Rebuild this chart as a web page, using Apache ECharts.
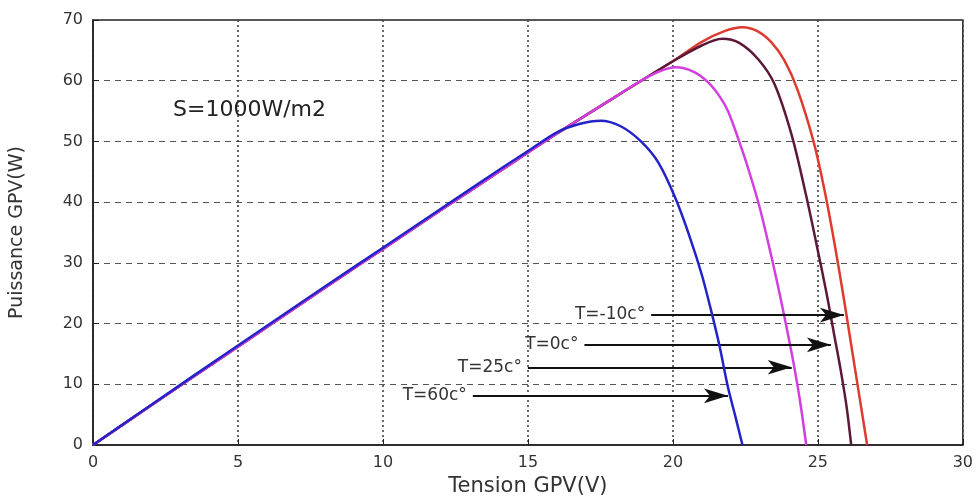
<!DOCTYPE html>
<html>
<head>
<meta charset="utf-8">
<style>
  html, body { margin: 0; padding: 0; background: #fff; }
  #main { width: 976px; height: 502px; }
</style>
<script src="https://cdn.jsdelivr.net/npm/echarts@6/dist/echarts.min.js"></script>
</head>
<body>
<div id="main"></div>
<script>
// courbes P(V), S = 1000 W/m2
var vT60 = [0, 2, 5, 8, 10, 12, 14, 15, 16, 16.8, 17.5, 18.2, 18.9, 19.5, 20.1, 20.6, 21.0, 21.3, 21.6, 21.9, 22.15, 22.4];
var pT60 = [0, 6.6, 16.4, 26.1, 32.5, 38.9, 45.3, 48.4, 51.5, 52.9, 53.4, 52.5, 50, 46.5, 40.5, 34, 28, 22.5, 16.5, 9.5, 4.8, 0];

var vT25 = [0, 2, 5, 8, 10, 12, 14, 16, 18, 19.2, 20.1, 20.7, 21.2, 21.6, 21.9, 22.25, 22.6, 23.0, 23.4, 23.7, 24.0, 24.2, 24.4, 24.6];
var pT25 = [0, 6.5, 16.2, 25.9, 32.3, 38.7, 45.0, 51.3, 57.3, 60.8, 62.2, 61.5, 59.8, 57.5, 55, 50.5, 45.5, 39, 31, 24.5, 17.5, 12.5, 6.8, 0];

var vT0 = [0, 2, 5, 8, 10, 12, 14, 16, 18, 20, 21, 21.7, 22.3, 22.95, 23.5, 24.1, 24.6, 25.0, 25.3, 25.55, 25.8, 26.0, 26.15];
var pT0 = [0, 6.5, 16.2, 25.9, 32.3, 38.7, 45.0, 51.3, 57.3, 63.2, 65.8, 66.9, 66.2, 63.5, 59.5, 51, 41, 32, 25, 18.5, 12, 6, 0];

var vTm10 = [0, 2, 5, 8, 10, 12, 14, 16, 18, 20, 21, 21.8, 22.4, 22.9, 23.4, 23.85, 24.3, 24.85, 25.25, 25.6, 25.9, 26.15, 26.4, 26.7];
var pTm10 = [0, 6.5, 16.2, 25.9, 32.3, 38.7, 45.0, 51.3, 57.3, 63.2, 66.4, 68.2, 68.8, 68.2, 66.3, 63.3, 58.5, 50, 41.5, 32.5, 24, 16.5, 9, 0];

// fleches d'annotation : [texte, V debut, V fin, P]
var arrows = [
  ['T=-10c°', 19.25, 25.9, 21.4],
  ['T=0c°', 16.95, 25.45, 16.5],
  ['T=25c°', 15.0, 24.1, 12.8],
  ['T=60c°', 13.1, 21.9, 8.1]
];

var xTicks = [0, 30, 5];
var yTicks = [0, 70, 10];

function pairs(v, p) {
  return v.map(function (x, i) { return [x, p[i]]; });
}

var chart = echarts.init(document.getElementById('main'));

var arrowLines = arrows.map(function (a) {
  return [
    { coord: [a[1], a[3]], symbolSize: 1, label: { formatter: a[0] } },
    { coord: [a[2], a[3]], symbolSize: [11, 24] }
  ];
});

var font = 'DejaVu Sans';
var labelStyle = { color: '#333', fontSize: 16, fontFamily: font };

function curve(name, v, p, color, z) {
  return {
    name: name, type: 'line', data: pairs(v, p),
    smooth: 0.3,
    showSymbol: false, lineStyle: { color: color, width: 2.5 }, z: z
  };
}

var sRed = curve('T=-10', vTm10, pTm10, '#de3a30', 2);
sRed.markLine = {
  silent: true,
  symbol: ['none', 'arrow'],
  lineStyle: { color: '#111', width: 2, type: 'solid' },
  label: { show: true, position: 'start', distance: 6, color: '#333', fontSize: 17, fontFamily: font },
  data: arrowLines
};

chart.setOption({
  animation: false,
  title: {
    text: 'S=1000W/m2',
    left: 168,
    top: 94,
    textStyle: { color: '#222', fontSize: 22, fontWeight: 'normal', fontFamily: font }
  },
  grid: {
    left: 93, right: 11, top: 20, bottom: 50,
    show: true, borderColor: '#222', borderWidth: 1.5, backgroundColor: '#fff'
  },
  xAxis: {
    type: 'value',
    min: xTicks[0], max: xTicks[1], interval: xTicks[2],
    name: 'Tension GPV(V)',
    nameLocation: 'middle',
    nameGap: 31,
    nameTextStyle: { color: '#333', fontSize: 21, fontFamily: font },
    axisLine: { lineStyle: { color: '#222', width: 1.5 } },
    axisTick: { inside: true, length: 6, lineStyle: { color: '#222' } },
    axisLabel: Object.assign({ margin: 10 }, labelStyle),
    splitLine: { show: true, lineStyle: { type: [2, 3], color: '#444', width: 1.6 } }
  },
  yAxis: {
    type: 'value',
    min: yTicks[0], max: yTicks[1], interval: yTicks[2],
    name: 'Puissance GPV(W)',
    nameLocation: 'middle',
    nameGap: 66,
    nameTextStyle: { color: '#333', fontSize: 19, fontFamily: font },
    axisLine: { show: true, lineStyle: { color: '#222', width: 1.5 } },
    axisTick: { show: true, inside: true, length: 6, lineStyle: { color: '#222' } },
    axisLabel: Object.assign({ margin: 10 }, labelStyle),
    splitLine: { show: true, lineStyle: { type: [6, 5], color: '#555', width: 1.2 } }
  },
  series: [
    sRed,
    curve('T=0', vT0, pT0, '#5c1838', 3),
    curve('T=25', vT25, pT25, '#d23fe0', 4),
    curve('T=60', vT60, pT60, '#2323c8', 5)
  ]
});
</script>
</body>
</html>
